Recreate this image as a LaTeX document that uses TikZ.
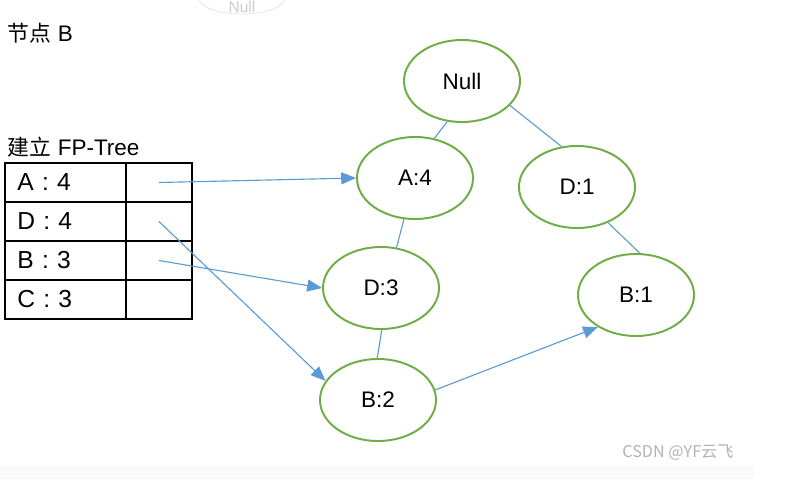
\documentclass[tikz,border=0pt]{standalone}
\usepackage{fontspec}
\setmainfont{Liberation Sans}
\newfontfamily\cjk{Noto Sans CJK SC}
\usetikzlibrary{arrows.meta,shapes.geometric}
\definecolor{leaf}{HTML}{70AD47}
\definecolor{link}{HTML}{5B9BD5}
\tikzset{tnode/.style={ellipse,draw=leaf,line width=1.4pt,inner sep=0pt,minimum width=2.9cm,minimum height=2.05cm,font=\fontsize{16}{18}\selectfont}, keycell/.style={draw,line width=0.9pt,minimum width=3.025cm,minimum height=0.975cm,text width=2.4cm,align=left,inner xsep=0.3cm,font=\fontsize{17.5}{20}\selectfont}, valcell/.style={draw,line width=0.9pt,minimum width=1.65cm,minimum height=0.975cm}, heading/.style={anchor=west,font=\fontsize{16}{19}\selectfont}, treeline/.style={draw=link,line width=0.8pt}, arr/.style={-{Triangle[length=3.7mm,width=3mm]},draw=link,line width=0.8pt}}

\begin{document}
\begin{tikzpicture}[x=0.025cm,y=-0.025cm]
\useasboundingbox(0,0)rectangle(799,479);
\fill[gray!4](0,466)rectangle(755,479);
\begin{scope}\clip(0,0)rectangle(799,479);\node[ellipse,draw=gray!20,line width=0.6pt,minimum width=2.15cm,minimum height=0.8cm](old)at(242,-2){};\end{scope}
\node[text=gray!40,font=\fontsize{11}{12}\selectfont](oldtxt)at(242,7){Null};
\node[heading](title)at(3,33){{\cjk\fontsize{15.5}{19}\selectfont 节点} B};\node[heading](sub)at(3,147){{\cjk\fontsize{15.5}{19}\selectfont 建立} FP-Tree};
\foreach \k [count=\i] in {A : 4,D : 4,B : 3,C : 3}{\node[keycell](k\i)at(65.5,143.5+39*\i){\k};\node[valcell](v\i)at(159,143.5+39*\i){};}
\node[tnode](null)at(462,81){Null};\node[tnode](a4)at(415,178){A:4};\node[tnode](d1)at(577,187){D:1};
\node[tnode](d3)at(381,288){D:3};\node[tnode](b1)at(636,295){B:1};\node[tnode](b2)at(378,400){B:2};
\draw[treeline](null.250)--(a4.64);\draw[treeline](null.333)--(d1.111);\draw[treeline](a4.255)--(d3.69);\draw[treeline](d3.271)--(b2.91);\draw[treeline](d1.311)--(b1.85);
\draw[arr](v1.center)--(a4.west);\draw[arr](v2.center)--(b2.160);\draw[arr](v3.center)--(d3.west);\draw[arr](b2.10)--(b1.220);
\node[text=gray!60,font=\cjk\fontsize{11.5}{13}\selectfont](mark)at(678,453){CSDN @YF云飞};
\end{tikzpicture}
\end{document}
